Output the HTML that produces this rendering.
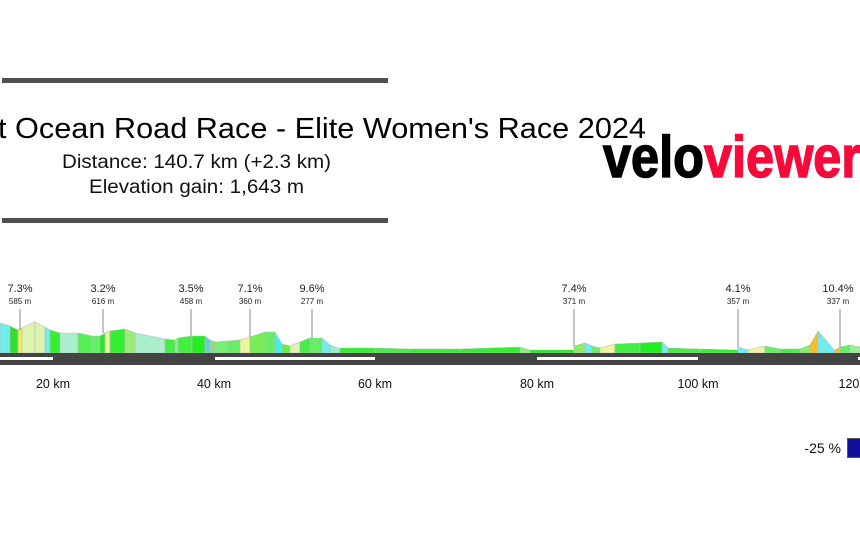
<!DOCTYPE html>
<html><head><meta charset="utf-8"><style>
html,body{margin:0;padding:0;background:#fff;width:860px;height:546px;overflow:hidden;font-family:"Liberation Sans",sans-serif}
</style></head><body>
<svg width="860" height="546" viewBox="0 0 860 546" xmlns="http://www.w3.org/2000/svg" font-family="Liberation Sans, sans-serif">
<rect x="2" y="78" width="386" height="5" fill="#505050"/>
<rect x="2" y="218" width="386" height="5" fill="#505050"/>
<text x="-2" y="138" font-size="29" fill="#000" textLength="648" lengthAdjust="spacingAndGlyphs">t Ocean Road Race - Elite Women's Race 2024</text>
<text x="62" y="168" font-size="19" fill="#111" textLength="269" lengthAdjust="spacingAndGlyphs">Distance: 140.7 km (+2.3 km)</text>
<text x="89" y="193" font-size="19" fill="#111" textLength="215" lengthAdjust="spacingAndGlyphs">Elevation gain: 1,643 m</text>
<text x="603" y="177" font-size="58" font-weight="bold" fill="#000" stroke="#000" stroke-width="1.5" textLength="258" lengthAdjust="spacingAndGlyphs">velo<tspan fill="#f50a3a" stroke="#f50a3a">viewer</tspan></text>

<g stroke="#bbb" stroke-width="0.6">
<polygon points="0,353 0,323 10,326 10,353" fill="#70eeee"/>
<polygon points="10,353 10,326 18,330 18,353" fill="#33dd33"/>
<polygon points="18,353 18,330 22,328 22,353" fill="#eeee55"/>
<polygon points="22,353 22,328 35,322 35,353" fill="#ddf5b0"/>
<polygon points="35,353 35,322 45,327 45,353" fill="#ddf5b0"/>
<polygon points="45,353 45,327 50,330 50,353" fill="#70eeee"/>
<polygon points="50,353 50,330 60,333 60,353" fill="#33ee33"/>
<polygon points="60,353 60,333 78,333 78,353" fill="#aaeecc"/>
<polygon points="78,353 78,333 92,336 92,353" fill="#55ee55"/>
<polygon points="92,353 92,336 100,336 100,353" fill="#66ee66"/>
<polygon points="100,353 100,336 105,333 105,353" fill="#22ee22"/>
<polygon points="105,353 105,333 110,331 110,353" fill="#eef5a0"/>
<polygon points="110,353 110,331 125,329 125,353" fill="#33ee33"/>
<polygon points="125,353 125,329 135,333 135,353" fill="#99ee77"/>
<polygon points="135,353 135,333 165,339 165,353" fill="#aaeecc"/>
<polygon points="165,353 165,339 175,340 175,353" fill="#44ee44"/>
<polygon points="175,353 175,340 178,338 178,353" fill="#88ee99"/>
<polygon points="178,353 178,338 192,336 192,353" fill="#44ee44"/>
<polygon points="192,353 192,336 205,336 205,353" fill="#22ee22"/>
<polygon points="205,353 205,336 210,340 210,353" fill="#66ccdd"/>
<polygon points="210,353 210,340 215,342 215,353" fill="#88dd88"/>
<polygon points="215,353 215,342 228,341 228,353" fill="#77ee77"/>
<polygon points="228,353 228,341 240,340 240,353" fill="#66ee66"/>
<polygon points="240,353 240,340 250,337 250,353" fill="#eef5a0"/>
<polygon points="250,353 250,337 265,332 265,353" fill="#77ee55"/>
<polygon points="265,353 265,332 275,332 275,353" fill="#66ee66"/>
<polygon points="275,353 275,332 282,344 282,353" fill="#44eeee"/>
<polygon points="282,353 282,344 290,346 290,353" fill="#66ee44"/>
<polygon points="290,353 290,346 300,342 300,353" fill="#ddf5b0"/>
<polygon points="300,353 300,342 310,338 310,353" fill="#44ee44"/>
<polygon points="310,353 310,338 322,338 322,353" fill="#66ee66"/>
<polygon points="322,353 322,338 330,345 330,353" fill="#70eeee"/>
<polygon points="330,353 330,345 340,349 340,353" fill="#99eecc"/>
<polygon points="340,353 340,348 375,348 375,353" fill="#33ee33"/>
<polygon points="375,353 375,348 410,349 410,353" fill="#44ee44"/>
<polygon points="410,353 410,349 460,349 460,353" fill="#33ee33"/>
<polygon points="460,353 460,349 520,347 520,353" fill="#33ee33"/>
<polygon points="520,353 520,347 530,350 530,353" fill="#88ee88"/>
<polygon points="530,353 530,350 574,350 574,353" fill="#22ee22"/>
<polygon points="574,353 574,346 585,343 585,353" fill="#88ee66"/>
<polygon points="585,353 585,343 592,346 592,353" fill="#70eeee"/>
<polygon points="592,353 592,346 600,348 600,353" fill="#66ee66"/>
<polygon points="600,353 600,348 615,344 615,353" fill="#eef5a0"/>
<polygon points="615,353 615,344 640,343 640,353" fill="#44ee44"/>
<polygon points="640,353 640,343 662,342 662,353" fill="#22ee22"/>
<polygon points="662,353 662,342 668,348 668,353" fill="#70eeee"/>
<polygon points="668,353 668,348 700,349 700,353" fill="#44ee44"/>
<polygon points="700,353 700,349 738,350 738,353" fill="#33ee33"/>
<polygon points="738,353 738,347 748,350 748,353" fill="#70eeee"/>
<polygon points="748,353 748,350 765,346 765,353" fill="#eef5a0"/>
<polygon points="765,353 765,346 780,349 780,353" fill="#66ee66"/>
<polygon points="780,353 780,349 800,349 800,353" fill="#44ee44"/>
<polygon points="800,353 800,349 810,345 810,353" fill="#88ee66"/>
<polygon points="810,353 810,345 818,331 818,353" fill="#f0c030"/>
<polygon points="818,353 818,331 835,351 835,353" fill="#70eeee"/>
<polygon points="835,353 835,350 840,347 840,353" fill="#f0c030"/>
<polygon points="840,353 840,347 850,345 850,353" fill="#66ee66"/>
<polygon points="850,353 850,345 860,347 860,353" fill="#99ee99"/>
</g>
<rect x="0" y="353" width="860" height="12" fill="#444"/>
<g fill="#fff">
<rect x="0" y="357" width="53" height="3"/>
<rect x="215" y="357" width="160" height="3"/>
<rect x="537" y="357" width="161" height="3"/>
<rect x="858" y="357" width="2" height="3"/>
</g>
<g stroke="#888" stroke-width="1">
<line x1="20" y1="309" x2="20" y2="330"/>
<line x1="103" y1="309" x2="103" y2="333"/>
<line x1="191" y1="309" x2="191" y2="336"/>
<line x1="250" y1="309" x2="250" y2="337"/>
<line x1="312" y1="309" x2="312" y2="338"/>
<line x1="574" y1="309" x2="574" y2="346"/>
<line x1="738" y1="309" x2="738" y2="347"/>
<line x1="840" y1="309" x2="840" y2="347"/>
</g>
<g font-size="11" fill="#222" text-anchor="middle">
<text x="20" y="292">7.3%</text><text x="103" y="292">3.2%</text><text x="191" y="292">3.5%</text>
<text x="250" y="292">7.1%</text><text x="312" y="292">9.6%</text><text x="574" y="292">7.4%</text>
<text x="738" y="292">4.1%</text><text x="838" y="292">10.4%</text>
</g>
<g font-size="8" fill="#222" text-anchor="middle">
<text x="20" y="304">585 m</text><text x="103" y="304">616 m</text><text x="191" y="304">458 m</text>
<text x="250" y="304">360 m</text><text x="312" y="304">277 m</text><text x="574" y="304">371 m</text>
<text x="738" y="304">357 m</text><text x="838" y="304">337 m</text>
</g>
<g font-size="12.5" fill="#111" text-anchor="middle">
<text x="53" y="388">20 km</text><text x="214" y="388">40 km</text><text x="375" y="388">60 km</text>
<text x="537" y="388">80 km</text><text x="698" y="388">100 km</text><text x="859" y="388">120 km</text>
</g>
<text x="841" y="453" font-size="14" fill="#111" text-anchor="end">-25 %</text>
<rect x="847.5" y="438.5" width="20" height="19" fill="#10109a" stroke="#555"/>
</svg>
</body></html>
